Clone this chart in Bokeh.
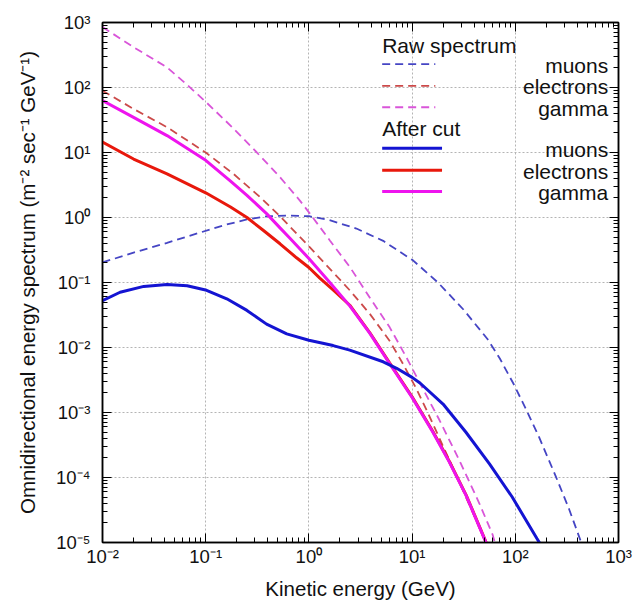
import numpy as np
from bokeh.plotting import figure
from bokeh.models import (LogAxis, FixedTicker, CustomJSTickFormatter, Label, Range1d)
from bokeh.embed import file_html
from bokeh.resources import INLINE

# ---------------- data ----------------
x_ticks = [1e-2, 1e-1, 1e0, 1e1, 1e2, 1e3]
y_ticks = [1e-5, 1e-4, 1e-3, 1e-2, 1e-1, 1e0, 1e1, 1e2, 1e3]

# Raw spectrum (dashed)
raw_muons_E = [0.01, 0.02, 0.0422, 0.0891, 0.158, 0.251, 0.398, 0.631, 1.0, 1.585, 2.884, 5.248,
               10.2, 17.8, 31.6, 53.7, 70.8, 97.7, 126, 170, 245, 331, 398, 447]
raw_muons_F = [0.204, 0.288, 0.407, 0.589, 0.776, 0.933, 1.047, 1.072, 1.047, 0.912, 0.676, 0.437,
               0.219, 0.100, 0.038, 0.0135, 6.76e-3, 2.63e-3, 1.15e-3, 4.17e-4, 1.07e-4, 3.31e-5,
               1.48e-5, 8.9e-6]

raw_electrons_E = [0.01, 0.02, 0.0422, 0.1, 0.186, 0.339, 0.525, 0.655, 1.023, 1.596, 2.489, 3.882,
                   6.067, 8.147, 10.96, 13.71, 18.45, 24.83, 35.48, 53.5]
raw_electrons_F = [89.1, 46.8, 24.5, 10.0, 4.68, 2.04, 1.047, 0.724, 0.347, 0.162, 0.0759, 0.0331,
                   0.0126, 5.62e-3, 2.34e-3, 1.12e-3, 3.98e-4, 1.41e-4, 3.98e-5, 9.0e-6]

raw_gamma_E = [0.01, 0.02, 0.0422, 0.0661, 0.1, 0.186, 0.313, 0.525, 0.818, 1.023, 1.596, 2.489,
               3.882, 6.067, 8.79, 11.75, 18.45, 28.77, 44.87, 60.3, 64.6]
raw_gamma_F = [851, 417, 204, 110, 60.3, 23.4, 10.0, 4.17, 1.82, 1.148, 0.443, 0.174,
               0.0589, 0.0204, 7.08e-3, 2.95e-3, 7.59e-4, 1.82e-4, 3.98e-5, 1.32e-5, 8.9e-6]

# After cut (solid)
cut_muons_E = [0.01, 0.0148, 0.0251, 0.0422, 0.0661, 0.102, 0.160, 0.251, 0.389, 0.610, 1.0, 1.718,
               2.489, 5.248, 7.08, 10.0, 12.0, 19.95, 33.1, 56.2, 93.3, 162, 178]
cut_muons_F = [0.0525, 0.0708, 0.0871, 0.0933, 0.0891, 0.0759, 0.0562, 0.0372, 0.0229, 0.0162,
               0.0129, 0.0107, 9.12e-3, 6.03e-3, 4.79e-3, 3.47e-3, 2.82e-3, 1.35e-3, 5.01e-4,
               1.62e-4, 5.01e-5, 1.15e-5, 9.0e-6]

cut_electrons_E = [0.01, 0.02, 0.0422, 0.1, 0.174, 0.251, 0.363, 0.525, 0.759, 1.0, 1.276, 1.738,
                   2.489, 3.882, 6.067, 10.0, 15.85, 22.9, 33.4, 50.1, 53.5]
cut_electrons_F = [14.45, 7.94, 4.68, 2.40, 1.45, 1.0, 0.631, 0.394, 0.240, 0.170, 0.117, 0.0759,
                   0.0447, 0.0170, 5.75e-3, 1.74e-3, 5.13e-4, 1.78e-4, 5.37e-5, 1.17e-5, 9.0e-6]

cut_gamma_E = [0.01, 0.02, 0.0422, 0.1, 0.174, 0.251, 0.389, 0.525, 0.655, 1.0, 1.596, 2.489,
               3.882, 6.067, 10.0, 15.85, 22.9, 33.4, 50.1, 53.5]
cut_gamma_F = [63.1, 34.7, 18.2, 7.59, 3.63, 2.19, 1.148, 0.692, 0.479, 0.234, 0.1, 0.0437,
               0.0166, 5.62e-3, 1.70e-3, 5.01e-4, 1.74e-4, 5.25e-5, 1.15e-5, 9.0e-6]

legend_raw = ["muons", "electrons", "gamma"]
legend_cut = ["muons", "electrons", "gamma"]

# ---------------- style ----------------
FONT = "Liberation Sans"
C_RAW = ["#4545c4", "#cc4a4a", "#d955d9"]
C_CUT = ["#1414d2", "#e8180c", "#ee14ee"]

XMIN, XMAX = x_ticks[0], x_ticks[-1]
YMIN, YMAX = y_ticks[0], y_ticks[-1]

p = figure(x_axis_type="log", y_axis_type="log",
           x_range=Range1d(XMIN, XMAX), y_range=Range1d(YMIN, YMAX),
           width=637, height=604,
           min_border_left=102, min_border_right=19, min_border_top=22, min_border_bottom=62,
           output_backend="svg", toolbar_location=None,
           background_fill_color="white", border_fill_color="white")

sup_code = """
const e = Math.round(Math.log10(tick));
const sup = {'-':'\u207b','0':'\u2070','1':'\u00b9','2':'\u00b2','3':'\u00b3','4':'\u2074',
             '5':'\u2075','6':'\u2076','7':'\u2077','8':'\u2078','9':'\u2079'};
return '10' + String(e).split('').map(c => sup[c]).join('');
"""

def decade_minors(ticks):
    out = []
    for t in ticks[:-1]:
        out += [t * m for m in range(2, 10)]
    return out

xt = FixedTicker(ticks=x_ticks, minor_ticks=decade_minors(x_ticks))
yt = FixedTicker(ticks=y_ticks, minor_ticks=decade_minors(y_ticks))

def style_axis(ax, labels=True):
    ax.axis_line_color = "black"
    ax.axis_line_width = 1.5
    ax.major_tick_in = 9
    ax.major_tick_out = 0
    ax.minor_tick_in = 5
    ax.minor_tick_out = 0
    ax.major_tick_line_color = "black"
    ax.minor_tick_line_color = "black"
    ax.major_tick_line_width = 1
    ax.minor_tick_line_width = 1
    if labels:
        ax.formatter = CustomJSTickFormatter(code=sup_code)
        ax.major_label_text_font = FONT
        ax.major_label_text_font_size = "18.5px"
        ax.major_label_text_color = "#111111"
        ax.axis_label_text_font = FONT
        ax.axis_label_text_font_size = "20.5px"
        ax.axis_label_text_font_style = "normal"
        ax.axis_label_text_color = "#111111"
    else:
        ax.formatter = CustomJSTickFormatter(code="return '';")
        ax.major_label_text_font_size = "0px"
        ax.major_label_standoff = 0
        ax.axis_label_standoff = 0

p.xaxis.ticker = xt
p.yaxis.ticker = yt
style_axis(p.xaxis[0])
style_axis(p.yaxis[0])
p.xaxis.axis_label = "Kinetic energy (GeV)"
p.yaxis.axis_label = "Omnidirectional energy spectrum (m\u207b\u00b2 sec\u207b\u00b9 GeV\u207b\u00b9)"
p.xaxis.major_label_standoff = 3
p.xaxis.axis_label_standoff = 7
p.yaxis.major_label_standoff = 12
p.yaxis.axis_label_standoff = 14

top = LogAxis(ticker=xt)
right = LogAxis(ticker=yt)
style_axis(top, labels=False)
style_axis(right, labels=False)
p.add_layout(top, "above")
p.add_layout(right, "right")

p.xgrid.ticker = xt
p.ygrid.ticker = yt
for g in (p.xgrid, p.ygrid):
    g.grid_line_color = "#b4b4b4"
    g.grid_line_dash = "2 2"
    g.grid_line_width = 1
p.outline_line_color = "black"
p.outline_line_width = 1.5

# ---------------- curves ----------------
DASH = "8 5"
DW = 1.8
p.line(raw_muons_E, raw_muons_F, line_color=C_RAW[0], line_width=DW, line_dash=DASH)
p.line(raw_electrons_E, raw_electrons_F, line_color=C_RAW[1], line_width=DW, line_dash=DASH)
p.line(raw_gamma_E, raw_gamma_F, line_color=C_RAW[2], line_width=DW, line_dash=DASH)
p.line(cut_electrons_E, cut_electrons_F, line_color=C_CUT[1], line_width=3)
p.line(cut_gamma_E, cut_gamma_F, line_color=C_CUT[2], line_width=3)
p.line(cut_muons_E, cut_muons_F, line_color=C_CUT[0], line_width=3)

# ---------------- legend (positioned by frame fractions) ----------------
lx0, lx1 = np.log10(XMIN), np.log10(XMAX)
ly0, ly1 = np.log10(YMIN), np.log10(YMAX)

def fx(f):
    return 10 ** (lx0 + f * (lx1 - lx0))

def fy(f):
    return 10 ** (ly0 + f * (ly1 - ly0))

def text(fxp, fyp, s, align):
    p.add_layout(Label(x=fx(fxp), y=fy(1 - fyp), text=s, text_font=FONT, text_font_size="21px",
                       text_color="#111111", text_align=align, text_baseline="middle"))

# header rows and sample rows (fractions of the frame, measured from top)
text(0.542, 0.044, "Raw spectrum", "left")
text(0.542, 0.204, "After cut", "left")
raw_rows = [0.082, 0.124, 0.165]
cut_rows = [0.244, 0.286, 0.327]
for i in range(3):
    yy = fy(1 - raw_rows[i] + 0.002)
    p.line([fx(0.542), fx(0.645)], [yy, yy], line_color=C_RAW[i], line_width=DW, line_dash=DASH)
    text(0.98, raw_rows[i], legend_raw[i], "right")
    yy = fy(1 - cut_rows[i] + 0.002)
    p.line([fx(0.542), fx(0.658)], [yy, yy], line_color=C_CUT[i], line_width=3)
    text(0.98, cut_rows[i], legend_cut[i], "right")

open("out.html", "w").write(file_html(p, INLINE))
